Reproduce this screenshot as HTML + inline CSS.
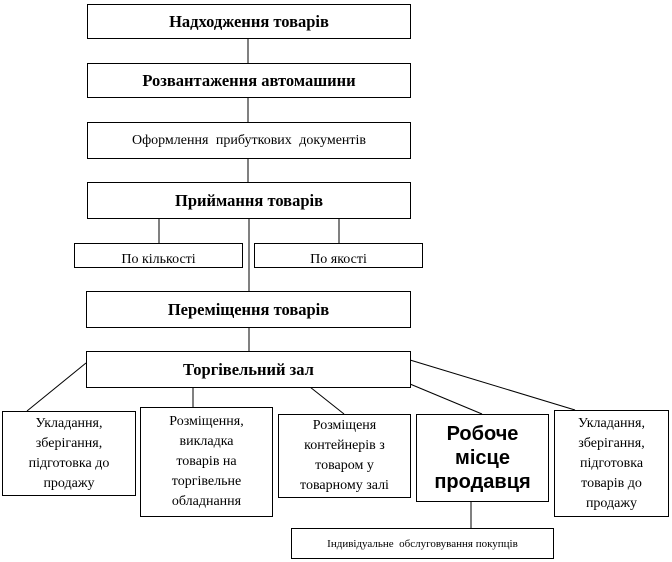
<!DOCTYPE html>
<html><head><meta charset="utf-8"><style>
body{margin:0;width:672px;height:562px;background:#fff;position:relative;overflow:hidden;font-family:"Liberation Serif",serif;}
.b{position:absolute;border:1px solid #000;box-sizing:border-box;display:flex;align-items:center;justify-content:center;text-align:center;background:#fff;color:#000}
.h{font-weight:bold;font-size:16.5px}
.s{font-size:14px;line-height:20px}
svg{position:absolute;left:0;top:0}
</style></head><body>
<svg width="672" height="562"><g stroke="#000" stroke-width="1" fill="none">
<line x1="248" y1="38" x2="248" y2="63"/>
<line x1="248" y1="97" x2="248" y2="122"/>
<line x1="248" y1="158" x2="248" y2="182"/>
<line x1="249" y1="218" x2="249" y2="291"/>
<line x1="159" y1="218" x2="159" y2="243"/>
<line x1="339" y1="218" x2="339" y2="243"/>
<line x1="249" y1="327" x2="249" y2="351"/>
<line x1="86" y1="363" x2="27" y2="411"/>
<line x1="193" y1="387" x2="193" y2="407"/>
<line x1="310" y1="387" x2="344" y2="414"/>
<line x1="410" y1="384" x2="482" y2="414"/>
<line x1="410" y1="360" x2="575" y2="410"/>
<line x1="471" y1="501" x2="471" y2="528"/>
</g></svg>
<div class="b h" style="left:87px;top:4px;width:324px;height:35px">Надходження товарів</div>
<div class="b h" style="left:87px;top:63px;width:324px;height:35px">Розвантаження автомашини</div>
<div class="b" style="left:87px;top:122px;width:324px;height:37px;font-size:14px;word-spacing:4px">Оформлення прибуткових документів</div>
<div class="b h" style="left:87px;top:182px;width:324px;height:37px">Приймання товарів</div>
<div class="b" style="left:74px;top:243px;width:169px;height:25px;font-size:14px;align-items:flex-end;overflow:hidden;line-height:14px">По кількості</div>
<div class="b" style="left:254px;top:243px;width:169px;height:25px;font-size:14px;align-items:flex-end;overflow:hidden;line-height:14px">По якості</div>
<div class="b h" style="left:86px;top:291px;width:325px;height:37px">Переміщення товарів</div>
<div class="b h" style="left:86px;top:351px;width:325px;height:37px">Торгівельний зал</div>
<div class="b s" style="left:2px;top:411px;width:134px;height:85px;padding:0 14px">Укладання, зберігання, підготовка до продажу</div>
<div class="b s" style="left:140px;top:407px;width:133px;height:110px;padding:0 20px">Розміщення, викладка товарів на торгівельне обладнання</div>
<div class="b s" style="left:278px;top:414px;width:133px;height:84px;padding:0 14px">Розміщеня контейнерів з товаром у товарному залі</div>
<div class="b" style="left:416px;top:414px;width:133px;height:88px;font-family:'Liberation Sans',sans-serif;font-weight:bold;font-size:20px;line-height:24px;padding:0 20px">Робоче місце продавця</div>
<div class="b s" style="left:554px;top:410px;width:115px;height:107px;padding:0 14px">Укладання, зберігання, підготовка товарів до продажу</div>
<div class="b" style="left:291px;top:528px;width:263px;height:31px;font-size:11px">Індивідуальне&nbsp; обслуговування покупців</div>
</body></html>
